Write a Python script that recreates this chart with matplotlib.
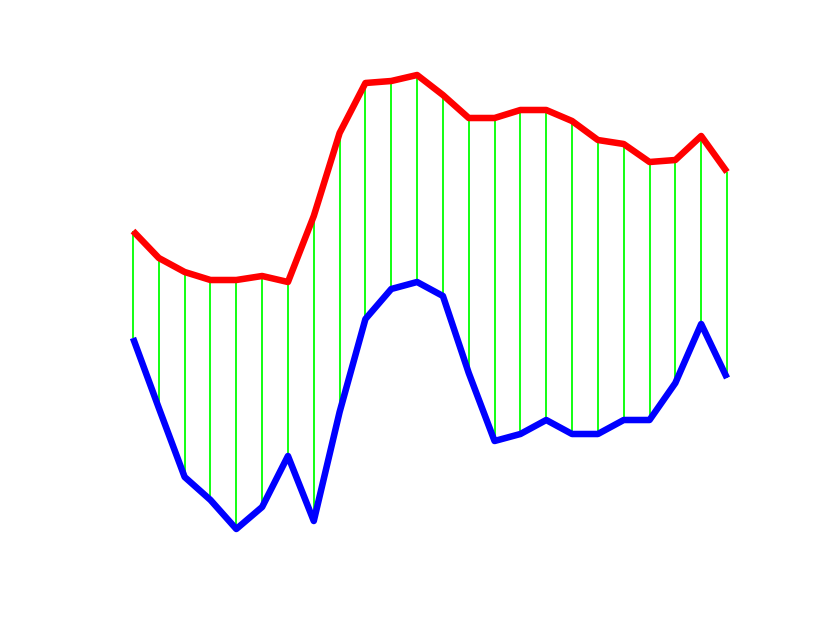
import matplotlib
matplotlib.use('Agg')
import matplotlib.pyplot as plt
import numpy as np

# values (higher = further up)
upper = [392, 365, 351, 343, 343, 347, 341, 407, 490, 540, 542, 548, 528, 505,
         505, 513, 513, 502, 483, 479, 461, 463, 487, 451]
lower = [285, 215, 146, 123, 94, 116, 167, 102, 211, 304, 334, 341, 327, 250,
         182, 189, 203, 189, 189, 203, 203, 240, 299, 245]

x = np.arange(len(upper))

fig = plt.figure(figsize=(8.3, 6.23), dpi=100)
ax = fig.add_axes([133 / 830, 0, (727 - 133) / 830, 1])
ax.set_xlim(0, len(upper) - 1)
ax.set_ylim(0, 623)
ax.axis('off')

# green connectors between the two series
ax.vlines(x, lower, upper, colors='#00ff00', linewidth=1.3, zorder=1, clip_on=False)
ax.plot(x, upper, color='red', linewidth=4.7, solid_capstyle='butt', zorder=2, clip_on=False)
ax.plot(x, lower, color='blue', linewidth=4.7, solid_capstyle='butt', zorder=2, clip_on=False)

plt.savefig('out.png', dpi=100)
plt.close()
